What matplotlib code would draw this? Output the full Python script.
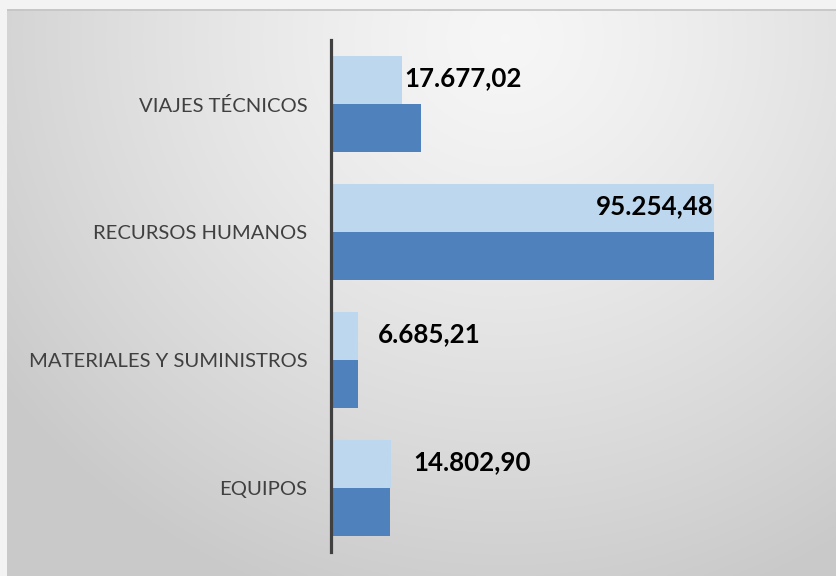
import numpy as np
import matplotlib
matplotlib.use("Agg")
import matplotlib.pyplot as plt

categories = ["EQUIPOS", "MATERIALES Y SUMINISTROS", "RECURSOS HUMANOS", "VIAJES TÉCNICOS"]
serie_clara = [14802.90, 6685.21, 95254.48, 17677.02]
serie_oscura = [14700.0, 6700.0, 95254.48, 22400.0]
etiquetas = ["14.802,90", "6.685,21", "95.254,48", "17.677,02"]

W, H = 836, 576
fig = plt.figure(figsize=(W / 100, H / 100), dpi=100)
fig.patch.set_facecolor("#f3f3f3")

# gradient background of chart area
bg = fig.add_axes([7 / W, 0, (W - 7) / W, (H - 9) / H])
bg.set_axis_off()
ny, nx = 300, 440
yy, xx = np.mgrid[0:ny, 0:nx]
cx, cy = nx * 0.6, ny * 0.05
d = np.sqrt(((xx - cx) / (nx * 0.75)) ** 2 + ((yy - cy) / (ny * 1.05)) ** 2)
d = np.clip(d, 0, 1)
light = np.array([0.965, 0.965, 0.965])
dark = np.array([0.79, 0.79, 0.79])
img = light + (dark - light) * (d[..., None] ** 1.3)
bg.imshow(img, aspect="auto", extent=[0, 1, 0, 1], origin="upper")
bg.set_xlim(0, 1)
bg.set_ylim(0, 1)
bg.plot([0, 1], [0.999, 0.999], color="#c4c4c4", lw=1.2)

xmax = 120000
left_px, top_px, bot_px = 331, 40, 552
right_px = left_px + xmax / 95254.48 * (714 - 331)
ax = fig.add_axes([left_px / W, (H - bot_px) / H, (right_px - left_px) / W, (bot_px - top_px) / H])
ax.patch.set_alpha(0)

y = np.arange(len(categories))
h = 0.378
ax.barh(y, serie_clara, height=h, align="edge", color="#BDD7EE", edgecolor="none")
ax.barh(y - h, serie_oscura, height=h, align="edge", color="#4F81BD", edgecolor="none")

ax.set_xlim(0, xmax)
ax.set_ylim(-0.5, 3.5)
ax.set_yticks(y)
ax.set_yticklabels(categories, fontfamily="Lato", fontsize=14.6, color="#404040")
ax.tick_params(axis="y", length=0, pad=17)
ax.set_xticks([])
for s in ["top", "right", "bottom"]:
    ax.spines[s].set_visible(False)
ax.spines["left"].set_linewidth(2.3)
ax.spines["left"].set_color("#404040")

# label offsets in pixels (manual placement as in the reference)
offsets = [(23, 0), (20, 0), (0, 0), (2, 0)]
aligns = ["left", "left", "right", "left"]
for i, (v, lab) in enumerate(zip(serie_clara, etiquetas)):
    ax.annotate(lab, xy=(v, y[i] + h / 2 + 0.01), xytext=(offsets[i][0] * 0.72, 0),
                textcoords="offset points", ha=aligns[i], va="center",
                fontfamily="Lato", fontweight="bold", fontsize=18.6, color="black")

fig.savefig("out.png", dpi=100, facecolor=fig.get_facecolor())
